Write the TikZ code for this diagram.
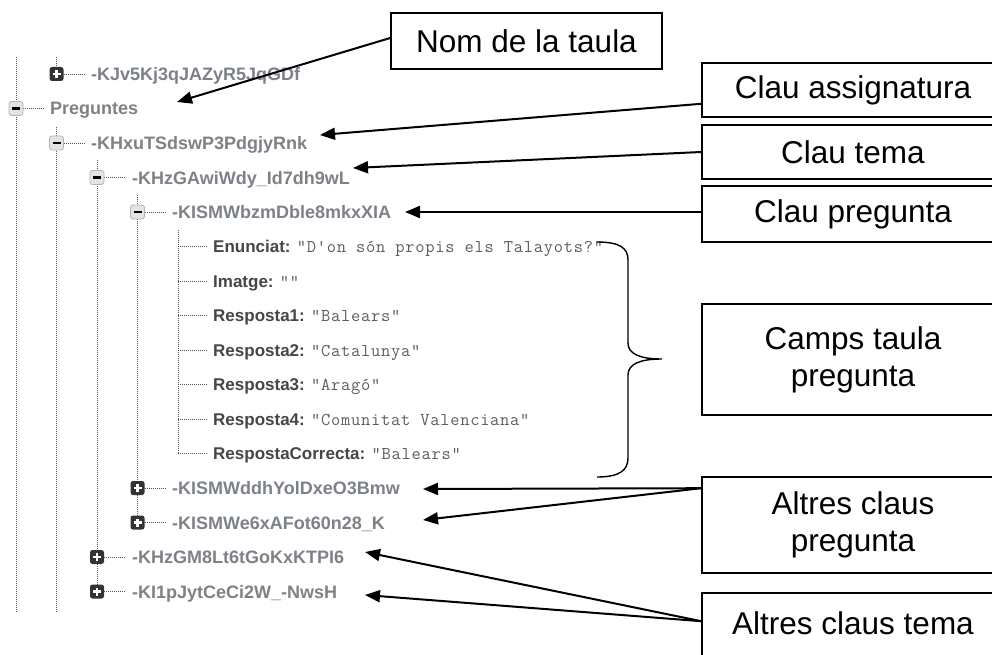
\documentclass[tikz,border=0pt]{standalone}
\usepackage{fontspec}
\setmainfont{Liberation Sans}
\setsansfont{Liberation Sans}
\newfontfamily\valfont{Latin Modern Mono}[LetterSpace=4]
\usetikzlibrary{arrows.meta}
\definecolor{keygray}{HTML}{7D8188}
\definecolor{labdark}{HTML}{464646}
\definecolor{valgray}{HTML}{5E5E5E}
\definecolor{dotgray}{HTML}{555555}
\definecolor{icondark}{HTML}{333333}
\definecolor{iconlight}{HTML}{E4E4E4}
\definecolor{iconedge}{HTML}{B4B4B4}
\tikzset{
  treedots/.style={draw=dotgray, line width=0.9pt, dash pattern=on 1pt off 1pt},
  keytxt/.style={anchor=base west, inner sep=0pt, text=keygray, font=\fontsize{18}{20}\selectfont\bfseries},
  fieldtxt/.style={anchor=base west, inner sep=0pt, font=\fontsize{17}{19}\selectfont},
  plusicon/.style={rectangle, rounded corners=2.5pt, fill=icondark, minimum size=14pt, inner sep=0pt,
    path picture={
      \draw[white, line width=2.4pt] ([xshift=-4pt]path picture bounding box.center) -- ([xshift=4pt]path picture bounding box.center);
      \draw[white, line width=2.4pt] ([yshift=-4pt]path picture bounding box.center) -- ([yshift=4pt]path picture bounding box.center);}},
  minusicon/.style={rectangle, rounded corners=2.5pt, fill=iconlight, draw=iconedge, line width=0.8pt, minimum size=14pt, inner sep=0pt,
    path picture={
      \draw[black, line width=2.4pt] ([xshift=-4pt]path picture bounding box.center) -- ([xshift=4pt]path picture bounding box.center);}},
  labelbox/.style={draw=black, line width=1.6pt, minimum width=302pt, inner sep=0pt, align=center, font=\fontsize{31.5}{37}\selectfont},
  boxtext/.style={inner sep=0pt, font=\fontsize{31.5}{37}\selectfont},
  arr/.style={draw=black, line width=2pt, -{Triangle[length=15pt,width=12pt]}},
}
\newcommand{\lab}[1]{\textcolor{labdark}{\bfseries #1}}
\newcommand{\val}[1]{\textcolor{valgray}{\valfont\fontsize{18}{19}\selectfont #1}}
\begin{document}
\begin{tikzpicture}[x=1pt,y=-1pt]
\useasboundingbox (0,0) rectangle (992,655);
\fill[white] (0,0) rectangle (992,655);

% vertical tree lines
\draw[treedots] (16,57) -- (16,613);
\draw[treedots] (56.5,57) -- (56.5,67);
\draw[treedots] (56.5,127) -- (56.5,613);
\draw[treedots] (97,160) -- (97,591.5);
\draw[treedots] (137.5,195) -- (137.5,522.5);
\draw[treedots] (178,230) -- (178,453.5);

% horizontal connectors
\draw[treedots] (63.5,74) -- (85,74);
\draw[treedots] (23,108.5) -- (44,108.5);
\draw[treedots] (63.5,143) -- (85,143);
\draw[treedots] (104,177.5) -- (126,177.5);
\draw[treedots] (144.5,212) -- (166,212);
\foreach \yy in {246.5,281,315.5,350,384.5,419,453.5}
  \draw[treedots] (178,\yy) -- (207,\yy);
\draw[treedots] (144.5,488) -- (166,488);
\draw[treedots] (144.5,522.5) -- (166,522.5);
\draw[treedots] (104,557) -- (126,557);
\draw[treedots] (104,591.5) -- (126,591.5);

% icons
\node[plusicon] (i1) at (56.5,74) {};
\node[minusicon] (i2) at (16,108.5) {};
\node[minusicon] (i3) at (56.5,143) {};
\node[minusicon] (i4) at (97,177.5) {};
\node[minusicon] (i5) at (137.5,212) {};
\node[plusicon] (i6) at (137.5,488) {};
\node[plusicon] (i7) at (137.5,522.5) {};
\node[plusicon] (i8) at (97,557) {};
\node[plusicon] (i9) at (97,591.5) {};

% keys
\node[keytxt] (k1) at (91,80.5) {-KJv5Kj3qJAZyR5JqGDf};
\node[keytxt] (k2) at (50,115) {Preguntes};
\node[keytxt] (k3) at (91,149.5) {-KHxuTSdswP3PdgjyRnk};
\node[keytxt] (k4) at (132,184) {-KHzGAwiWdy\_Id7dh9wL};
\node[keytxt] (k5) at (172,218.5) {-KISMWbzmDble8mkxXIA};
\node[keytxt] (k6) at (172,494.5) {-KISMWddhYolDxeO3Bmw};
\node[keytxt] (k7) at (172,529) {-KISMWe6xAFot60n28\_K};
\node[keytxt] (k8) at (132,563.5) {-KHzGM8Lt6tGoKxKTPI6};
\node[keytxt] (k9) at (132,598) {-KI1pJytCeCi2W\_-NwsH};

% fields
\node[fieldtxt] (f1) at (213,252.5) {\lab{Enunciat:} \val{"D'on són propis els Talayots?"}};
\node[fieldtxt] (f2) at (213,287) {\lab{Imatge:} \val{""}};
\node[fieldtxt] (f3) at (213,321.5) {\lab{Resposta1:} \val{"Balears"}};
\node[fieldtxt] (f4) at (213,356) {\lab{Resposta2:} \val{"Catalunya"}};
\node[fieldtxt] (f5) at (213,390.5) {\lab{Resposta3:} \val{"Aragó"}};
\node[fieldtxt] (f6) at (213,425) {\lab{Resposta4:} \val{"Comunitat Valenciana"}};
\node[fieldtxt] (f7) at (213,459.5) {\lab{RespostaCorrecta:} \val{"Balears"}};

% brace
\draw[line width=1.4pt] (597,242) .. controls (620,242) and (628,248) .. (628,260) -- (628,343)
  .. controls (628,354) and (640,359) .. (662,359)
  .. controls (640,359) and (628,364) .. (628,375) -- (628,458)
  .. controls (628,470) and (620,477) .. (597,477);

% label boxes
\node[labelbox, minimum width=271pt, minimum height=56pt] (nom) at (526.5,41) {Nom de la taula};
\node[labelbox, minimum height=54pt] (ca) at (853,90) {Clau assignatura};
\node[labelbox, minimum height=54pt] (ct) at (853,152) {Clau tema};
\node[labelbox, minimum height=56pt] (cp) at (853,214) {Clau pregunta};
\node[labelbox, minimum height=111pt] (camps) at (853,359.5) {Camps taula\\pregunta};
\node[labelbox, minimum height=96pt] (acp) at (853,525) {Altres claus\\pregunta};
\node[labelbox, minimum height=120pt] (act) at (853,653) {};
\node[boxtext] (actl) at (853,623) {Altres claus tema};

% arrow tips
\coordinate (tNom) at (177,102);
\coordinate (tCA) at (320,135);
\coordinate (tCT) at (353,168);
\coordinate (tCP) at (405,212);
\coordinate (tACP1) at (423,489);
\coordinate (tACP2) at (423,520);
\coordinate (tACT1) at (365,552);
\coordinate (tACT2) at (365,595);

% arrows
\draw[arr] ([yshift=3pt]nom.west) -- (tNom);
\draw[arr] ([yshift=14pt]ca.south west) -- (tCA);
\draw[arr] (ct.west) -- (tCT);
\draw[arr] ([yshift=2pt]cp.west) -- (tCP);
\draw[arr] ([yshift=-12pt]acp.north west) -- (tACP1);
\draw[arr] ([yshift=-12pt]acp.north west) -- (tACP2);
\draw[arr] ([yshift=-29pt]act.north west) -- (tACT1);
\draw[arr] ([yshift=-29pt]act.north west) -- (tACT2);
\end{tikzpicture}
\end{document}
